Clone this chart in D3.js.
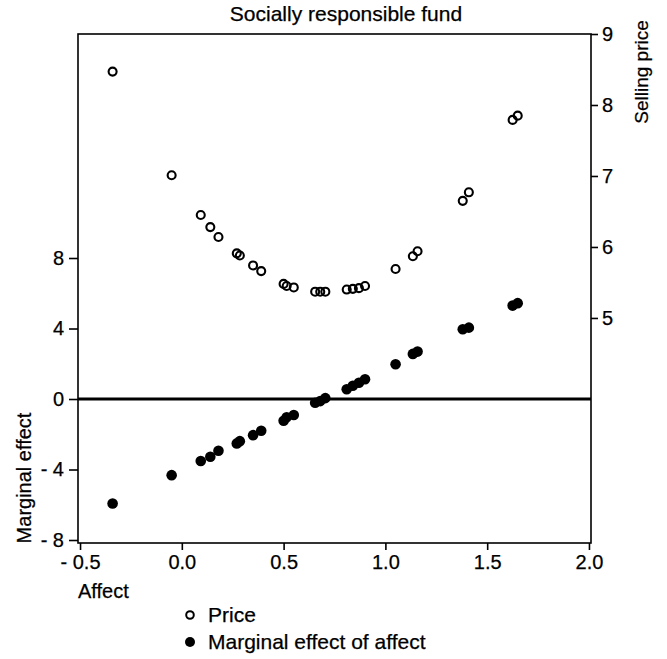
<!DOCTYPE html>
<html>
<head>
<meta charset="utf-8">
<script src="https://cdn.jsdelivr.net/npm/d3@7"></script>
<style>
  body { margin: 0; background: #fff; }
  svg { display: block; font-family: "Liberation Sans", Arial, sans-serif; }
  svg text { fill: #000; stroke: #000; stroke-width: 0.25px; }
</style>
</head>
<body>
<div id="chart"></div>
<script>
// values
const affect = [-0.34, -0.05, 0.093, 0.14, 0.18, 0.27, 0.285, 0.35, 0.39, 0.50, 0.515, 0.55,
  0.655, 0.68, 0.705, 0.81, 0.84, 0.87, 0.90, 1.05, 1.135, 1.158, 1.38, 1.41, 1.625, 1.65];
const price = [8.47, 7.01, 6.45, 6.28, 6.14, 5.91, 5.88, 5.74, 5.66, 5.48, 5.45, 5.43,
  5.37, 5.37, 5.37, 5.40, 5.41, 5.42, 5.45, 5.69, 5.87, 5.94, 6.65, 6.77, 7.79, 7.85];
const marginal = [-5.93, -4.32, -3.52, -3.28, -2.94, -2.52, -2.39, -2.05, -1.80, -1.23, -1.04, -0.91,
  -0.21, -0.12, 0.05, 0.55, 0.75, 0.92, 1.12, 1.97, 2.56, 2.69, 3.96, 4.05, 5.30, 5.44];

const xTicks = [-0.5, 0, 0.5, 1, 1.5, 2];
const leftTicks = [-8, -4, 0, 4, 8];
const rightTicks = [5, 6, 7, 8, 9];

const width = 667, height = 659;
const plot = { left: 78, right: 591, top: 34, bottom: 543 };

// format negative numbers like the original: "- 0.5"
function fmt(d, digits) {
  const s = digits ? Math.abs(d).toFixed(digits) : String(Math.abs(d));
  return d < 0 ? '- ' + s : s;
}

const svg = d3.select('#chart').append('svg')
  .attr('width', width)
  .attr('height', height);

const x = d3.scaleLinear().domain([-0.51, 2.01]).range([plot.left, plot.right]);
const yLeft = d3.scaleLinear().domain([-8.17, 20.71]).range([plot.bottom, plot.top]);
const yRight = d3.scaleLinear().domain([1.83, 9]).range([plot.bottom, plot.top]);

// frame
svg.append('rect')
  .attr('x', plot.left)
  .attr('y', plot.top)
  .attr('width', plot.right - plot.left)
  .attr('height', plot.bottom - plot.top)
  .attr('fill', 'none')
  .attr('stroke', '#000')
  .attr('stroke-width', 1.6);

// axes
const fontSize = 20;
function styleAxis(g) {
  g.select('.domain').remove();
  g.selectAll('line').attr('stroke', '#000').attr('stroke-width', 1.6);
  g.selectAll('text').attr('font-size', fontSize).attr('font-family', '"Liberation Sans", Arial, sans-serif');
}

svg.append('g')
  .attr('transform', `translate(0,${plot.bottom})`)
  .call(d3.axisBottom(x).tickValues(xTicks).tickSize(7).tickPadding(5).tickFormat(d => fmt(d, 1)))
  .call(styleAxis);

svg.append('g')
  .attr('transform', `translate(${plot.left},0)`)
  .call(d3.axisLeft(yLeft).tickValues(leftTicks).tickSize(9).tickPadding(5).tickFormat(d => fmt(d)))
  .call(styleAxis);

svg.append('g')
  .attr('transform', `translate(${plot.right},0)`)
  .call(d3.axisRight(yRight).tickValues(rightTicks).tickSize(7).tickPadding(4).tickFormat(d => fmt(d)))
  .call(styleAxis);

// zero line
svg.append('line')
  .attr('x1', plot.left).attr('x2', plot.right)
  .attr('y1', yLeft(0)).attr('y2', yLeft(0))
  .attr('stroke', '#000')
  .attr('stroke-width', 3);

// titles
svg.append('text')
  .attr('x', 346).attr('y', 21)
  .attr('text-anchor', 'middle')
  .attr('font-size', 21)
  .text('Socially responsible fund');

svg.append('text')
  .attr('transform', 'translate(31,478)rotate(-90)')
  .attr('text-anchor', 'middle')
  .attr('font-size', fontSize)
  .text('Marginal effect');

svg.append('text')
  .attr('transform', 'translate(648,72)rotate(-90)')
  .attr('text-anchor', 'middle')
  .attr('font-size', 19)
  .text('Selling price');

svg.append('text')
  .attr('x', 78).attr('y', 598)
  .attr('font-size', fontSize)
  .text('Affect');

// points
const pts = affect.map((a, i) => ({ a: a, p: price[i], m: marginal[i] }));

svg.append('g').selectAll('circle')
  .data(pts)
  .enter()
  .append('circle')
  .attr('cx', d => x(d.a))
  .attr('cy', d => yRight(d.p))
  .attr('r', 4)
  .attr('fill', 'none')
  .attr('stroke', '#000')
  .attr('stroke-width', 2.1);

svg.append('g').selectAll('circle')
  .data(pts)
  .enter()
  .append('circle')
  .attr('cx', d => x(d.a))
  .attr('cy', d => yLeft(d.m))
  .attr('r', 5.3)
  .attr('fill', '#000');

// legend
const legend = svg.append('g').attr('font-size', 21);
legend.append('circle').attr('cx', 190).attr('cy', 615).attr('r', 3.8)
  .attr('fill', 'none').attr('stroke', '#000').attr('stroke-width', 2);
legend.append('text').attr('x', 208).attr('y', 622).text('Price');
legend.append('circle').attr('cx', 190).attr('cy', 642).attr('r', 5).attr('fill', '#000');
legend.append('text').attr('x', 208).attr('y', 649).text('Marginal effect of affect');
</script>
</body>
</html>
